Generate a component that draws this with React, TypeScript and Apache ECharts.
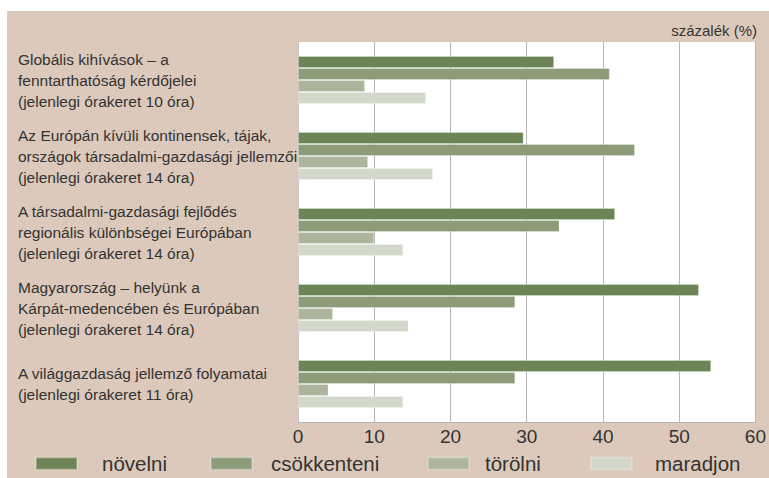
import React, { useEffect, useRef } from "react";
import * as echarts from "echarts";

const categories = [
  "Globális kihívások – a\nfenntarthatóság kérdőjelei\n(jelenlegi órakeret 10 óra)",
  "Az Európán kívüli kontinensek, tájak,\nországok társadalmi-gazdasági jellemzői\n(jelenlegi órakeret 14 óra)",
  "A társadalmi-gazdasági fejlődés\nregionális különbségei Európában\n(jelenlegi órakeret 14 óra)",
  "Magyarország – helyünk a\nKárpát-medencében és Európában\n(jelenlegi órakeret 14 óra)",
  "A világgazdaság jellemző folyamatai\n(jelenlegi órakeret 11 óra)",
];

const seriesNames = ["növelni", "csökkenteni", "törölni", "maradjon"];
const novelni = [33.6, 29.6, 41.6, 52.6, 54.2];
const csokkenteni = [40.9, 44.2, 34.3, 28.5, 28.5];
const torolni = [8.8, 9.2, 10.0, 4.6, 4.0];
const maradjon = [16.8, 17.7, 13.8, 14.5, 13.8];
const seriesValues = [novelni, csokkenteni, torolni, maradjon];
const seriesColors = ["#6d8556", "#8c9b78", "#adb59d", "#d2d8ca"];
const xTicks = { min: 0, max: 60, interval: 10 };
const unitLabel = "százalék (%)";

const legendLeft = [35, 210, 427, 590];
const legendTextGap = [20, 14, 11, 18];

export default function App() {
  const ref = useRef<HTMLDivElement>(null);
  useEffect(() => {
    if (!ref.current) return;
    const chart = echarts.init(ref.current, undefined, { renderer: "svg" });
    const font = "Liberation Sans, Arial, sans-serif";
    chart.setOption({
      animation: false,
      backgroundColor: "#ffffff",
      graphic: [
        {
          type: "rect",
          z: -10,
          silent: true,
          shape: { x: 7, y: 11, width: 762, height: 467 },
          style: { fill: "#dcc9bb" },
        },
        {
          type: "text",
          x: 757,
          y: 30,
          style: {
            text: unitLabel,
            align: "right",
            verticalAlign: "middle",
            fontSize: 15,
            fontFamily: font,
            fill: "#333333",
          },
        },
      ],
      grid: {
        left: 298,
        right: 12,
        top: 42,
        bottom: 56,
        show: true,
        backgroundColor: "#ffffff",
        borderWidth: 0,
      },
      legend: seriesNames.map((n, i) => ({
        data: [n],
        left: legendLeft[i],
        top: 453,
        padding: 0,
        itemWidth: 41,
        itemHeight: 12,
        icon: "rect",
        selectedMode: false,
        textStyle: {
          fontSize: 20.5,
          fontFamily: font,
          color: "#333333",
          padding: [0, 0, 0, legendTextGap[i]],
        },
      })),
      xAxis: {
        type: "value",
        min: xTicks.min,
        max: xTicks.max,
        interval: xTicks.interval,
        axisLine: { show: true, lineStyle: { color: "#b5b5b5", width: 1 } },
        axisTick: { show: false },
        splitLine: { show: true, lineStyle: { color: "#b5b5b5", width: 1 } },
        axisLabel: {
          fontSize: 19,
          fontFamily: font,
          color: "#333333",
          margin: 5,
        },
      },
      yAxis: {
        type: "category",
        data: categories,
        inverse: true,
        axisLine: { show: true, lineStyle: { color: "#c8c8c8" } },
        axisTick: { show: false },
        axisLabel: {
          align: "left",
          margin: 280,
          fontSize: 15.5,
          lineHeight: 21,
          fontFamily: font,
          color: "#333333",
          padding: [4, 0, 0, 0],
        },
      },
      series: seriesNames.map((n, i) => ({
        name: n,
        type: "bar",
        data: seriesValues[i],
        barWidth: 12,
        barGap: "0%",
        itemStyle: {
          color: seriesColors[i],
          borderColor: "rgba(255,255,255,0.25)",
          borderWidth: 1,
        },
      })),
    });
    return () => chart.dispose();
  }, []);
  return (
    <div
      ref={ref}
      style={{ position: "fixed", left: 0, top: 0, width: 769, height: 478 }}
    />
  );
}
